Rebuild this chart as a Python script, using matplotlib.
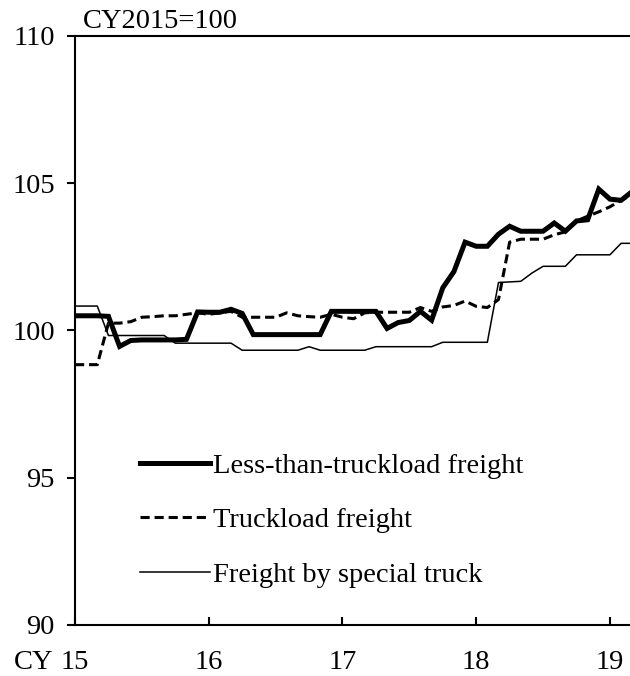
"""Freight rate indices, CY2015=100 (monthly, Jan 2015 - Mar 2019)."""

import numpy as np
import matplotlib
matplotlib.use("Agg")
import matplotlib.pyplot as plt

plt.rcParams["font.family"] = ["Liberation Serif", "DejaVu Serif"]
plt.rcParams["font.size"] = 20.5

# monthly index values, first point = Jan 2015
ltl = [100.5, 100.5, 100.5, 100.48,
       99.46, 99.66, 99.68, 99.68, 99.68, 99.68, 99.7,
       100.63, 100.62, 100.62, 100.72, 100.58,
       99.86, 99.86, 99.86, 99.86, 99.86, 99.86, 99.86,
       100.65, 100.65, 100.65, 100.65, 100.65,
       100.07, 100.27, 100.34, 100.65, 100.35,
       101.45, 102.0, 103.0, 102.86, 102.86, 103.27, 103.54, 103.37,
       103.37, 103.37, 103.65, 103.37, 103.72, 103.76, 104.8, 104.46,
       104.42, 104.72]
truckload = [98.84, 98.84, 98.84,
             100.25, 100.25, 100.3, 100.45, 100.47, 100.5, 100.5, 100.55, 100.6,
             100.55, 100.6, 100.65, 100.45, 100.45, 100.45, 100.45, 100.6,
             100.5, 100.47, 100.45, 100.55, 100.45, 100.4, 100.6, 100.62,
             100.62, 100.62, 100.62, 100.78, 100.65, 100.8, 100.85, 101.0,
             100.82, 100.78, 101.05, 103.0, 103.1, 103.1, 103.1, 103.25,
             103.35, 103.72, 103.88, 104.03, 104.2, 104.42, 104.62]
special = [100.83, 100.83, 100.83,
           99.83, 99.83, 99.83, 99.83, 99.83, 99.83,
           99.57, 99.57, 99.57, 99.57, 99.57, 99.57,
           99.33, 99.33, 99.33, 99.33, 99.33, 99.33, 99.45,
           99.33, 99.33, 99.33, 99.33, 99.33,
           99.45, 99.45, 99.45, 99.45, 99.45, 99.45,
           99.6, 99.6, 99.6, 99.6, 99.6,
           101.63, 101.65, 101.67, 101.95, 102.18, 102.18, 102.18,
           102.57, 102.57, 102.57, 102.57, 102.96, 102.96]

series_names = ["Less-than-truckload freight", "Truckload freight",
                "Freight by special truck"]
year_labels = ["15", "16", "17", "18", "19"]
months = np.arange(len(ltl))

fig = plt.figure(figsize=(6.3, 6.76), dpi=100)
ax = fig.add_axes([75 / 630, 51 / 676, 555 / 630, 589 / 676])

ax.plot(months, ltl, color="black", lw=3.6, solid_joinstyle="miter",
        label=series_names[0])
ax.plot(months, truckload, color="black", lw=2.2, dashes=(3.0, 1.6),
        label=series_names[1])
ax.plot(months, special, color="black", lw=1.1, label=series_names[2])

ax.set_xlim(0, 49.8)
ax.set_ylim(90, 110)
ax.set_yticks(np.arange(90, 111, 5))
ax.set_xticks(np.arange(0, 49, 12))
ax.set_xticklabels(year_labels)

for side in ["left", "bottom", "top"]:
    ax.spines[side].set_linewidth(1.5)
ax.spines["right"].set_visible(False)
ax.tick_params(axis="y", direction="out", length=6, width=1.5, pad=8.5)
ax.tick_params(axis="x", direction="in", length=6, width=1.5, pad=18)

ax.annotate("CY", xy=(0, 0), xycoords="axes fraction",
            xytext=(-15.5, -18), textcoords="offset points",
            ha="right", va="top")
ax.text(0.015, 1.004, "CY2015=100", transform=ax.transAxes,
        ha="left", va="bottom")

ax.legend(loc="upper left", bbox_to_anchor=(0.117, 0.292), frameon=False,
          borderpad=0, borderaxespad=0, handlelength=2.45,
          handletextpad=0.1, labelspacing=1.0)

fig.savefig("out.png", dpi=100)
